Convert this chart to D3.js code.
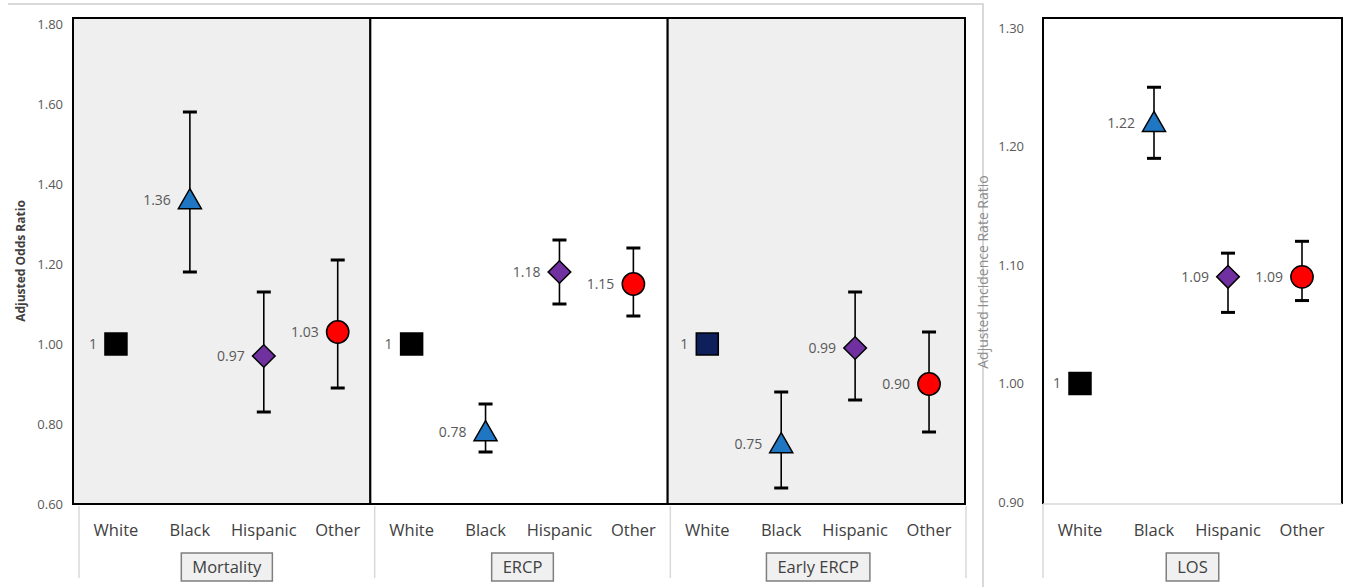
<!DOCTYPE html>
<html>
<head>
<meta charset="utf-8">
<script src="https://cdn.jsdelivr.net/npm/d3@7"></script>
<style>
  body { margin: 0; background: #fff; }
  text { font-family: "Open Sans", "Noto Sans", sans-serif; }
</style>
</head>
<body>
<div id="wrapper"></div>
<script>
// categories
const races = ["White", "Black", "Hispanic", "Other"]
const outcomes = ["Mortality", "ERCP", "Early ERCP"]

// adjusted odds ratios with 95% CI (white = reference)
const mortalityOR = [1, 1.36, 0.97, 1.03]
const mortalityLow = [null, 1.18, 0.83, 0.89]
const mortalityHigh = [null, 1.58, 1.13, 1.21]

const ercpOR = [1, 0.78, 1.18, 1.15]
const ercpLow = [null, 0.73, 1.10, 1.07]
const ercpHigh = [null, 0.85, 1.26, 1.24]

const earlyOR = [1, 0.75, 0.99, 0.90]
const earlyLow = [null, 0.64, 0.86, 0.78]
const earlyHigh = [null, 0.88, 1.13, 1.03]

// length of stay, adjusted incidence rate ratio
const losIRR = [1, 1.22, 1.09, 1.09]
const losLow = [null, 1.19, 1.06, 1.07]
const losHigh = [null, 1.25, 1.11, 1.12]

const orTicks = [0.6, 0.8, 1.0, 1.2, 1.4, 1.6, 1.8]
const irrTicks = [0.9, 1.0, 1.1, 1.2, 1.3]

/* styles per race: marker shape + fill */
const markerShape = ["square", "triangle", "diamond", "circle"]
const markerFill = ["#000000", "#1f77c4", "#7030a0", "#ff0000"]

const width = 1351
const height = 587

const svg = d3.select("#wrapper")
  .append("svg")
  .attr("width", width)
  .attr("height", height)

// light grey frame round the first chart
svg.append("path")
  .attr("d", "M8,4 H983 V587")
  .attr("fill", "none")
  .attr("stroke", "#d9d9d9")
  .attr("stroke-width", 2)

const plotTop = 18
const plotBottom = 504

/* symbol generator helper */
const symbolPath = function(shape) {
  if (shape === "square") return d3.symbol(d3.symbolSquare, 484)()
  if (shape === "triangle") return d3.symbol(d3.symbolTriangle, 230)()
  if (shape === "diamond") return d3.symbol(d3.symbolSquare, 256)()
  return d3.symbol(d3.symbolCircle, 390)()
}

const drawPoints = function(g, xPos, yScale, est, low, high, fills) {
  races.forEach(function(r, i) {
    const cx = xPos(r)
    const cy = yScale(est[i])
    if (low[i] !== null) {
      g.append("line")
        .attr("x1", cx).attr("x2", cx)
        .attr("y1", yScale(low[i])).attr("y2", yScale(high[i]))
        .attr("stroke", "#000").attr("stroke-width", 1.6)
      ;[low[i], high[i]].forEach(function(v) {
        g.append("line")
          .attr("x1", cx - 7).attr("x2", cx + 7)
          .attr("y1", yScale(v)).attr("y2", yScale(v))
          .attr("stroke", "#000").attr("stroke-width", 3)
      })
    }
    const shape = markerShape[i]
    let tr = `translate(${cx},${cy})`
    if (shape === "diamond") tr += " rotate(45)"
    if (shape === "triangle") tr = `translate(${cx},${cy + 2})`
    g.append("path")
      .attr("d", symbolPath(shape))
      .attr("transform", tr)
      .attr("fill", fills[i])
      .attr("stroke", "#000")
      .attr("stroke-width", 1.5)
    g.append("text")
      .attr("x", cx - 19)
      .attr("y", cy)
      .attr("dy", "0.35em")
      .attr("text-anchor", "end")
      .attr("font-size", 14)
      .attr("fill", "#595959")
      .text(est[i] === 1 ? "1" : d3.format(".2f")(est[i]))
  })
}

// boxed group label under the categories
const labelBox = function(parent, cx, label) {
  const g = parent.append("g")
  const box = g.append("rect")
  const t = g.append("text")
    .attr("x", cx)
    .attr("y", 567)
    .attr("dy", "0.35em")
    .attr("text-anchor", "middle")
    .attr("font-size", 16.5)
    .attr("fill", "#404040")
    .text(label)
  const w = t.node().getComputedTextLength() + 22
  box.attr("x", cx - w / 2)
    .attr("y", 553)
    .attr("width", w)
    .attr("height", 28)
    .attr("fill", "#f0f0f0")
    .attr("stroke", "#7f7f7f")
    .attr("stroke-width", 1.5)
}

/* ---------- chart 1: odds ratios ---------- */
const yOR = d3.scaleLinear().domain([0.6, 1.8]).range([plotBottom, 24])

// panel frames and category groups
const panelX = d3.scaleBand().domain(outcomes).range([73, 965])
const groupX = d3.scaleBand().domain(outcomes).range([79, 966])
const innerX = d3.scaleBand().domain(races).range([0, groupX.bandwidth()])

const chart1 = svg.append("g")

chart1.selectAll(".panel")
  .data(outcomes)
  .join("rect")
  .attr("class", "panel")
  .attr("x", d => panelX(d))
  .attr("y", plotTop)
  .attr("width", panelX.bandwidth())
  .attr("height", plotBottom - plotTop)
  .attr("fill", (d, i) => i === 1 ? "#ffffff" : "#efefef")
  .attr("stroke", "#000")
  .attr("stroke-width", 2)

// y axis
const yAxis1 = chart1.append("g")
  .attr("transform", "translate(66,0)")
  .call(d3.axisLeft(yOR).tickValues(orTicks).tickSize(0).tickFormat(d3.format(".2f")))
yAxis1.select(".domain").remove()
yAxis1.selectAll("text")
  .attr("font-size", 13)
  .attr("fill", "#595959")
  .attr("font-family", "Open Sans, sans-serif")

chart1.append("text")
  .attr("transform", `translate(21,${(plotTop + plotBottom) / 2}) rotate(-90)`)
  .attr("text-anchor", "middle")
  .attr("dy", "0.35em")
  .attr("font-size", 12)
  .attr("font-weight", "bold")
  .attr("fill", "#404040")
  .text("Adjusted Odds Ratio")

// group separators under the axis
const sepX = outcomes.map(d => groupX(d)).concat([groupX.range()[1]])
chart1.selectAll(".sep")
  .data(sepX)
  .join("line")
  .attr("x1", d => d).attr("x2", d => d)
  .attr("y1", plotBottom + 2).attr("y2", 578)
  .attr("stroke", "#d9d9d9")
  .attr("stroke-width", 1.5)

const series = [
  [mortalityOR, mortalityLow, mortalityHigh],
  [ercpOR, ercpLow, ercpHigh],
  [earlyOR, earlyLow, earlyHigh]
]

outcomes.forEach(function(o, k) {
  const g = chart1.append("g")
  const xPos = r => groupX(o) + innerX(r) + innerX.bandwidth() / 2
  const fills = markerFill.slice()
  if (o === "Early ERCP") fills[0] = "#0e1f5b"
  drawPoints(g, xPos, yOR, series[k][0], series[k][1], series[k][2], fills)

  g.selectAll(".cat")
    .data(races)
    .join("text")
    .attr("x", d => xPos(d))
    .attr("y", 530)
    .attr("dy", "0.35em")
    .attr("text-anchor", "middle")
    .attr("font-size", 16.5)
    .attr("fill", "#404040")
    .text(d => d)

  labelBox(g, groupX(o) + groupX.bandwidth() / 2, o)
})

/* ---------- chart 2: length of stay ---------- */
const yIRR = d3.scaleLinear().domain([0.9, 1.3]).range([502, 28])
const losLeft = 1043
const losRight = 1342
const losX = d3.scaleBand().domain(races).range([losLeft, losRight - 3])

const chart2 = svg.append("g")

chart2.append("path")
  .attr("d", `M${losLeft},${plotBottom} V${plotTop} H${losRight} V${plotBottom}`)
  .attr("fill", "#fff")
  .attr("stroke", "#000")
  .attr("stroke-width", 2)
chart2.append("line")
  .attr("x1", losLeft).attr("x2", losRight)
  .attr("y1", plotBottom).attr("y2", plotBottom)
  .attr("stroke", "#d9d9d9")
  .attr("stroke-width", 1.5)
chart2.append("line")
  .attr("x1", losLeft).attr("x2", losLeft)
  .attr("y1", plotBottom).attr("y2", 578)
  .attr("stroke", "#d9d9d9")
  .attr("stroke-width", 1.5)

const yAxis2 = chart2.append("g")
  .attr("transform", "translate(1027,0)")
  .call(d3.axisLeft(yIRR).tickValues(irrTicks).tickSize(0).tickFormat(d3.format(".2f")))
yAxis2.select(".domain").remove()
yAxis2.selectAll("text")
  .attr("font-size", 13)
  .attr("fill", "#595959")
  .attr("font-family", "Open Sans, sans-serif")

chart2.append("text")
  .attr("transform", `translate(983,272) rotate(-90)`)
  .attr("text-anchor", "middle")
  .attr("dy", "0.35em")
  .attr("font-size", 14)
  .attr("fill", "#8c8c8c")
  .text("Adjusted Incidence Rate Ratio")

const losPos = r => losX(r) + losX.bandwidth() / 2
drawPoints(chart2.append("g"), losPos, yIRR, losIRR, losLow, losHigh, markerFill)

chart2.selectAll(".cat")
  .data(races)
  .join("text")
  .attr("x", d => losPos(d))
  .attr("y", 530)
  .attr("dy", "0.35em")
  .attr("text-anchor", "middle")
  .attr("font-size", 16.5)
  .attr("fill", "#404040")
  .text(d => d)

labelBox(chart2, (losLeft + losRight) / 2, "LOS")
</script>
</body>
</html>
